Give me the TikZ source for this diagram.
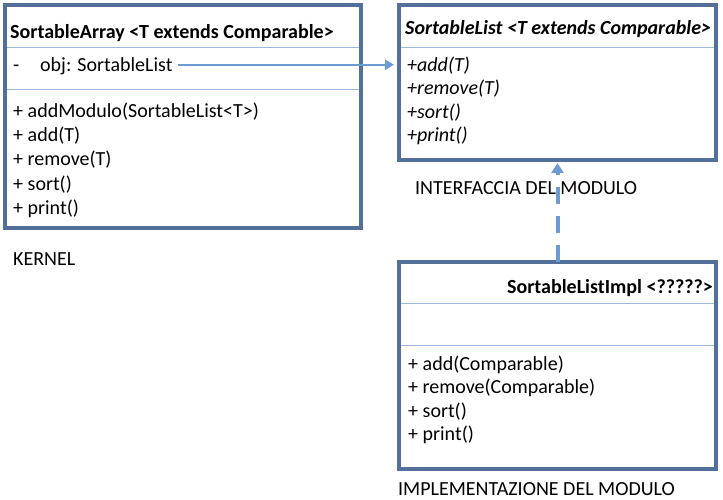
\documentclass[tikz,border=0pt]{standalone}
\usepackage{fontspec}
\setmainfont{Carlito}
\usetikzlibrary{arrows.meta}

\definecolor{umlframe}{HTML}{52709A}
\definecolor{umlrule}{HTML}{9CB8DC}
\definecolor{umllink}{HTML}{6D9CD4}

\begin{document}
\begin{tikzpicture}[x=1pt,y=-1pt,font=\fontsize{20}{24}\selectfont]
	\tikzstyle{frame}=[draw=umlframe,line width=4pt,inner sep=0pt,outer sep=0pt]
	\tikzstyle{txt}=[anchor=base west,inner sep=0pt]
	\tikzstyle{sep}=[draw=umlrule,line width=1pt,shorten <=2pt,shorten >=2pt]
	\tikzstyle{link}=[draw=umllink,-{Triangle[length=10pt,width=12pt]}]

	\useasboundingbox (0,0) rectangle (723,500);

	% kernel
	\node[frame,minimum width=356pt,minimum height=223pt](arr) at (183,116.5){};
	\draw[sep] (arr.west |- 0,48) -- (arr.east |- 0,48);
	\draw[sep] (arr.west |- 0,90) -- (arr.east |- 0,90);
	\node[txt](arrname) at (10,39){\textbf{SortableArray <T extends Comparable>}};
	\node[txt](dash) at (13,72){-};
	\node[txt](obj) at (40,72){obj: SortableList};
	\node[txt](addmod) at (13,118){+ addModulo(SortableList<T>)};
	\node[txt](aadd) at (13,142){+ add(T)};
	\node[txt](aremove) at (13,166){+ remove(T)};
	\node[txt](asort) at (13,190){+ sort()};
	\node[txt](aprint) at (13,214){+ print()};
	\node[txt](kernel) at (13,265){KERNEL};

	% interfaccia
	\node[frame,minimum width=317pt,minimum height=155pt](list) at (557.5,82.5){};
	\draw[sep] (list.west |- 0,48) -- (list.east |- 0,48);
	\node[txt](listname) at (405,35){\textbf{\textit{SortableList <T extends Comparable>}}};
	\node[txt](ladd) at (407,71.5){\textit{+add(T)}};
	\node[txt](lremove) at (407,95){\textit{+remove(T)}};
	\node[txt](lsort) at (407,118.5){\textit{+sort()}};
	\node[txt](lprint) at (407,142){\textit{+print()}};
	\node[txt](iface) at (415,194){INTERFACCIA DEL MODULO};

	% implementazione
	\node[frame,minimum width=317pt,minimum height=207pt](impl) at (557.5,365.5){};
	\draw[sep] (impl.west |- 0,303) -- (impl.east |- 0,303);
	\draw[sep] (impl.west |- 0,345) -- (impl.east |- 0,345);
	\node[txt,anchor=base east](implname) at (713,293){\textbf{SortableListImpl <?????>}};
	\node[txt](iadd) at (408,370){+ add(Comparable)};
	\node[txt](iremove) at (408,393.5){+ remove(Comparable)};
	\node[txt](isort) at (408,417){+ sort()};
	\node[txt](iprint) at (408,440.5){+ print()};
	\node[txt](impllabel) at (398,495){IMPLEMENTAZIONE DEL MODULO};

	\draw[link,line width=2.5pt,-{Triangle[length=9pt,width=10pt]},shorten <=5pt,shorten >=5pt] ([yshift=2pt]obj.east) -- ([yshift=2pt]obj.east -| list.west);
	\draw[link,line width=4pt,dash pattern=on 17pt off 12pt,shorten >=3pt] (impl.north) -- (list.south);

\end{tikzpicture}
\end{document}
